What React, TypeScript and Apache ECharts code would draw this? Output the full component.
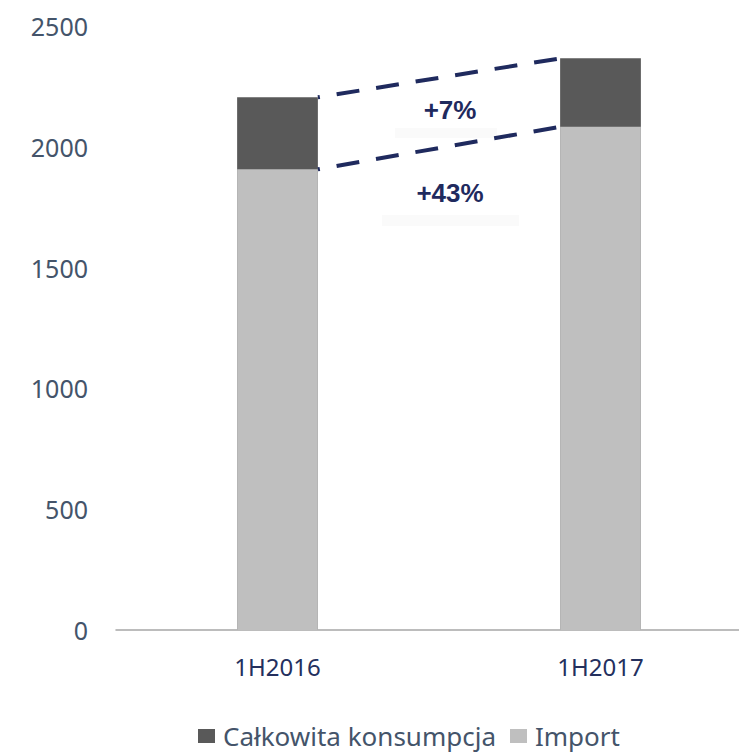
import React, { useEffect, useRef } from "react";
import * as echarts from "echarts";

const categories = ["1H2016", "1H2017"];
const totalConsumption = [2205, 2366];
const importValues = [1907, 2083];
const growthLabels = ["+7%", "+43%"];
const seriesNames = ["Całkowita konsumpcja", "Import"];

export default function App() {
  const ref = useRef<HTMLDivElement>(null);
  useEffect(() => {
    if (!ref.current) return;
    const chart = echarts.init(ref.current, null, { renderer: "svg" });
    const font = "'Noto Sans', sans-serif";
    const navy = "#1f2a5e";
    chart.setOption({
      animation: false,
      grid: { left: 116, top: 26, width: 646, height: 604, containLabel: false, outerBoundsMode: "none" },
      legend: {
        left: 198,
        top: 723,
        padding: 0,
        itemWidth: 17,
        itemHeight: 14,
        itemGap: 14,
        icon: "rect",
        textStyle: { color: "#44546a", fontSize: 26, fontFamily: font, lineHeight: 26, padding: [0, 0, 0, 3] },
        data: seriesNames,
      },
      xAxis: [
        {
          type: "category",
          data: categories,
          axisLine: { lineStyle: { color: "#a6a6a6", width: 1.5 } },
          axisTick: { show: false },
          axisLabel: { color: "#24305e", fontSize: 24, fontFamily: font, margin: 24 },
        },
        { type: "value", min: 0, max: 2, show: false },
      ],
      yAxis: {
        type: "value",
        min: 0,
        max: 2500,
        interval: 500,
        splitLine: { show: false },
        axisLine: { show: false },
        axisTick: { show: false },
        axisLabel: {
          color: "#44546a",
          fontSize: 25,
          fontFamily: font,
          margin: 28,
          formatter: (v: number) => String(v),
        },
      },
      series: [
        {
          name: seriesNames[0],
          type: "bar",
          data: totalConsumption,
          barWidth: "25%",
          barGap: "-100%",
          itemStyle: { color: "#595959" },
        },
        {
          name: seriesNames[1],
          type: "bar",
          data: importValues,
          barWidth: "25%",
          itemStyle: { color: "#bfbfbf" },
        },
        {
          type: "line",
          xAxisIndex: 1,
          data: [[0.625, totalConsumption[0]], [1.375, totalConsumption[1]]],
          symbol: "none",
          lineStyle: { color: navy, width: 4, type: [23, 17], dashOffset: 21 },
          silent: true,
        },
        {
          type: "line",
          xAxisIndex: 1,
          data: [[0.625, importValues[0]], [1.375, importValues[1]]],
          symbol: "none",
          lineStyle: { color: navy, width: 4, type: [23, 17], dashOffset: 21 },
          silent: true,
        },
      ],
      graphic: [
        { type: "rect", shape: { x: 395, y: 128, width: 102, height: 10 }, style: { fill: "#fafafa" }, z: -1 },
        { type: "rect", shape: { x: 382, y: 215, width: 137, height: 11 }, style: { fill: "#fafafa" }, z: -1 },
        {
          type: "text",
          x: 450,
          y: 110,
          style: { text: growthLabels[0], fill: navy, font: "bold 26px 'Liberation Sans', Arial, sans-serif", align: "center", verticalAlign: "middle" },
        },
        {
          type: "text",
          x: 450,
          y: 193,
          style: { text: growthLabels[1], fill: navy, font: "bold 26px 'Liberation Sans', Arial, sans-serif", align: "center", verticalAlign: "middle" },
        },
      ],
    });
    return () => chart.dispose();
  }, []);
  return (
    <div
      ref={ref}
      style={{ position: "fixed", left: 0, top: 0, width: 739, height: 755, background: "#fff" }}
    />
  );
}
